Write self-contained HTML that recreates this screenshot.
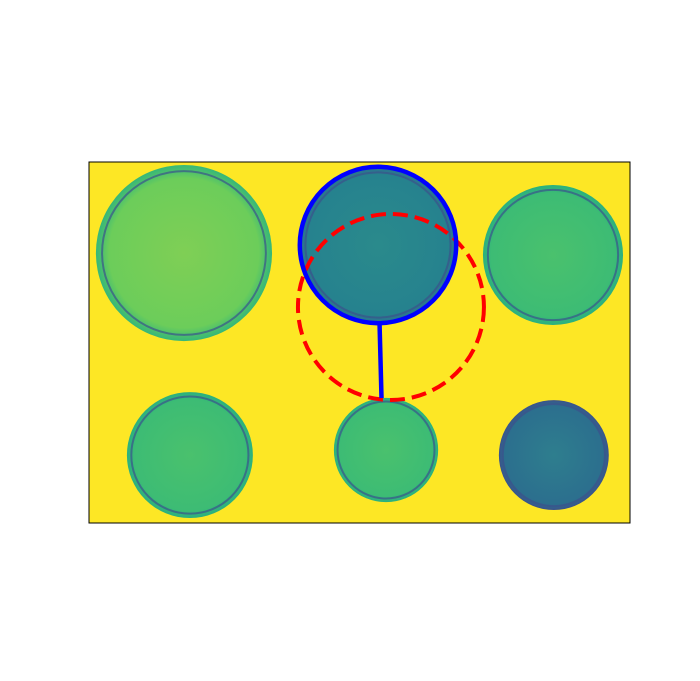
<!DOCTYPE html>
<html><head><meta charset="utf-8"><style>body{margin:0;background:#fff}svg{display:block}</style></head>
<body>
<svg id="chart" width="700" height="681" viewBox="0 0 700 681" xmlns="http://www.w3.org/2000/svg">
<defs>
<radialGradient id="g1"><stop offset="0" stop-color="#7fcf55"/><stop offset="0.85" stop-color="#6ccd5a"/><stop offset="1" stop-color="#35b779"/></radialGradient>
<radialGradient id="g2"><stop offset="0" stop-color="#2a8a8c"/><stop offset="0.9" stop-color="#26828e"/><stop offset="1" stop-color="#2d708e"/></radialGradient>
<radialGradient id="g3"><stop offset="0" stop-color="#4ac16d"/><stop offset="0.88" stop-color="#3dbc74"/><stop offset="1" stop-color="#2ab07f"/></radialGradient>
<radialGradient id="g4"><stop offset="0" stop-color="#2e7e8e"/><stop offset="0.9" stop-color="#2c6f8e"/><stop offset="1" stop-color="#3b528b"/></radialGradient>
<clipPath id="clipAx"><rect x="89" y="162" width="541" height="361"/></clipPath>
</defs>
<rect x="89" y="162" width="541" height="361" fill="#fde725"/>
<g id="coins" clip-path="url(#clipAx)"></g>
<g id="snakes"></g>
<rect x="89" y="162" width="541" height="361" fill="none" stroke="#000" stroke-width="1"/>
</svg>
<script>
// coin centers/radii in image pixel coords
const coinX = [67.4, 205.1, 329.3, 71.6, 210.8, 329.9];
const coinY = [64.6, 58.9, 66, 208, 204.4, 208];
const coinR = [62.5, 55.4, 49.7, 44.7, 37, 39];
const coinFill = ['url(#g1)', 'url(#g2)', 'url(#g3)', 'url(#g3)', 'url(#g3)', 'url(#g4)'];
// initial snake (circle) and final snake
const initCenter = [214.3, 102.9];
const initRadius = [66];
const finalCenter = [205.1, 58.9];
const finalRadius = [55.5];
const tailX = [206.2, 207.6];
const tailY = [114.3, 167.5];

const X0 = 89, Y0 = 162, S = 1.409;
const sx = v => X0 + v * S;
const sy = v => Y0 + v * S;
const ns = 'http://www.w3.org/2000/svg';
const coins = document.getElementById('coins');
coinX.forEach((cx, i) => {
  const c = document.createElementNS(ns, 'circle');
  c.setAttribute('cx', sx(cx)); c.setAttribute('cy', sy(coinY[i]));
  c.setAttribute('r', coinR[i] * S);
  c.setAttribute('fill', coinFill[i]);
  
  
  coins.appendChild(c);
  const rim = document.createElementNS(ns, 'circle');
  rim.setAttribute('cx', sx(cx)); rim.setAttribute('cy', sy(coinY[i]));
  rim.setAttribute('r', coinR[i] * S * 0.93);
  rim.setAttribute('fill', 'none'); rim.setAttribute('stroke', '#3b528b');
  rim.setAttribute('stroke-width', '2'); rim.setAttribute('opacity', '0.7');
  
  
  coins.appendChild(rim);
});
const sn = document.getElementById('snakes');
const red = document.createElementNS(ns, 'circle');
red.setAttribute('cx', sx(initCenter[0])); red.setAttribute('cy', sy(initCenter[1]));
red.setAttribute('r', initRadius[0] * S);
red.setAttribute('fill', 'none'); red.setAttribute('stroke', '#ff0000');
red.setAttribute('stroke-width', '4'); red.setAttribute('stroke-dasharray', '15 7');


sn.appendChild(red);
const blue = document.createElementNS(ns, 'circle');
blue.setAttribute('cx', sx(finalCenter[0])); blue.setAttribute('cy', sy(finalCenter[1]));
blue.setAttribute('r', finalRadius[0] * S);
blue.setAttribute('fill', 'none'); blue.setAttribute('stroke', '#0000ff');
blue.setAttribute('stroke-width', '4.5');


sn.appendChild(blue);
const tail = document.createElementNS(ns, 'line');
tail.setAttribute('x1', sx(tailX[0])); tail.setAttribute('y1', sy(tailY[0]));
tail.setAttribute('x2', sx(tailX[1])); tail.setAttribute('y2', sy(tailY[1]));
tail.setAttribute('stroke', '#0000ff'); tail.setAttribute('stroke-width', '4.5');


sn.appendChild(tail);
</script>
</body></html>
